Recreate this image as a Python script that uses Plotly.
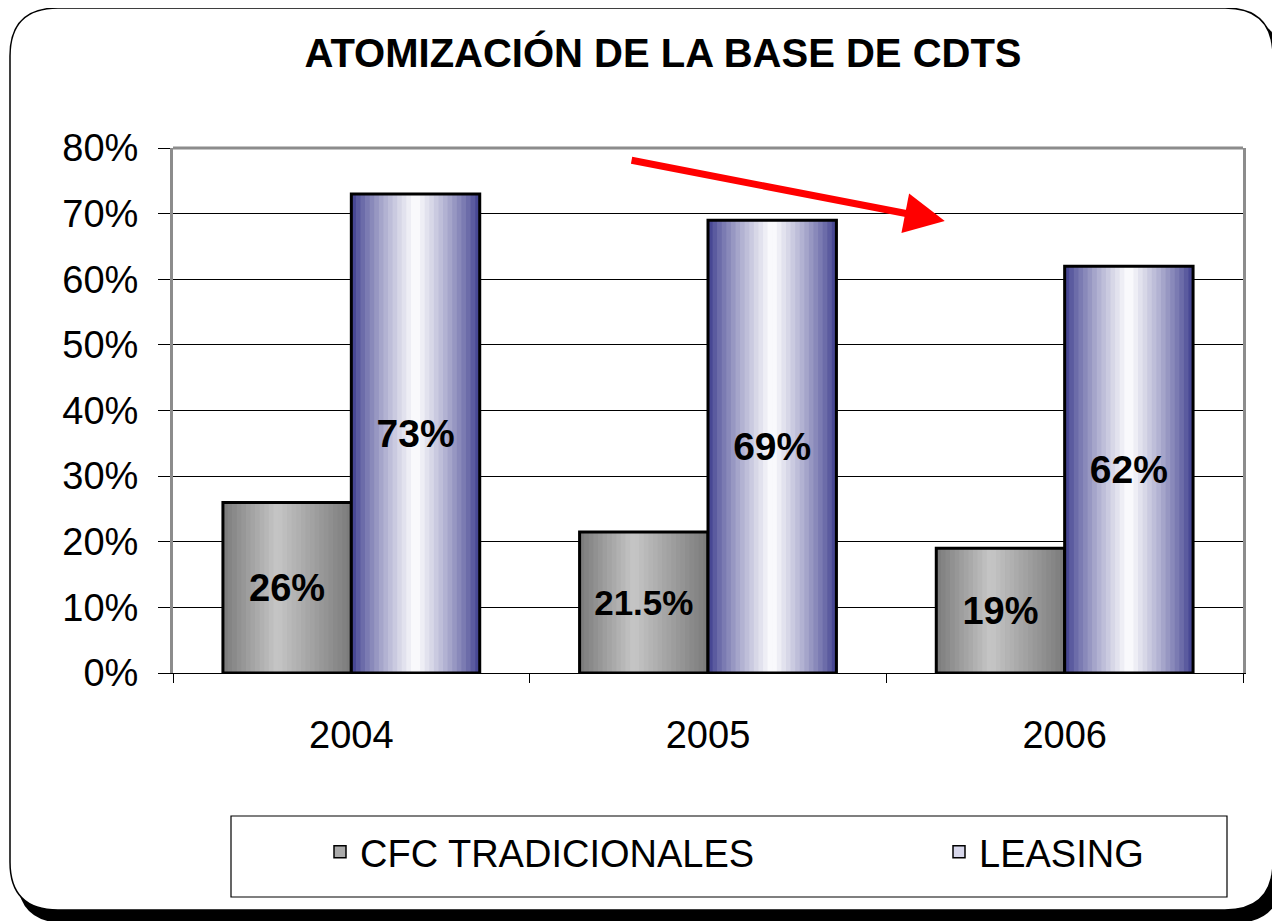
import plotly.graph_objects as go

# ===============================
# DATA
# ===============================
YEARS = ["2004", "2005", "2006"]
CFC = [26, 21.5, 19]
LEASING = [73, 69, 62]
CFC_LABELS = ["26%", "21.5%", "19%"]
LEASING_LABELS = ["73%", "69%", "62%"]
Y_TICKS = [0, 10, 20, 30, 40, 50, 60, 70, 80]
Y_TICK_LABELS = ["0%", "10%", "20%", "30%", "40%", "50%", "60%", "70%", "80%"]

TITLE = "ATOMIZACIÓN DE LA BASE DE CDTS"
FONT = "Liberation Sans, Arial, sans-serif"

# ===============================
# LAYOUT HELPERS (screen pixel -> paper)
# the page body adds an 8px margin, so the figure is drawn 8px smaller
# ===============================
OFF = 8
W, H = 1280 - OFF, 921 - OFF
L, R, T, B = 173, 1243, 148, 673   # plot area in screen pixels


def px_x(x):
    return (x - L) / (R - L)


def px_y(y):
    return (B - y) / (B - T)


def rounded_rect(x0, y0, x1, y1, r):
    pts = [
        f"M{px_x(x0 + r)},{px_y(y0)}",
        f"L{px_x(x1 - r)},{px_y(y0)}",
        f"Q{px_x(x1)},{px_y(y0)} {px_x(x1)},{px_y(y0 + r)}",
        f"L{px_x(x1)},{px_y(y1 - r)}",
        f"Q{px_x(x1)},{px_y(y1)} {px_x(x1 - r)},{px_y(y1)}",
        f"L{px_x(x0 + r)},{px_y(y1)}",
        f"Q{px_x(x0)},{px_y(y1)} {px_x(x0)},{px_y(y1 - r)}",
        f"L{px_x(x0)},{px_y(y0 + r)}",
        f"Q{px_x(x0)},{px_y(y0)} {px_x(x0 + r)},{px_y(y0)}",
        "Z",
    ]
    return " ".join(pts)


def mix(c1, c2, t):
    return "rgb(%d,%d,%d)" % tuple(round(a + (b - a) * t) for a, b in zip(c1, c2))


def gray_color(t):
    # dark edges, light band a bit left of centre
    peak = 0.42
    k = t / peak if t < peak else (1 - t) / (1 - peak)
    return mix((122, 122, 122), (198, 198, 198), k)


def blue_color(t):
    k = 1 - abs(t - 0.5) * 2
    k = k ** 0.8
    return mix((58, 58, 140), (255, 255, 255), k)


# ===============================
# FIGURE
# ===============================
BW = 0.36      # bar width in category units
N = 28         # gradient strips per bar

fig = go.Figure()

series = [
    ("CFC TRADICIONALES", CFC, CFC_LABELS, -BW, gray_color, "rgb(170,170,170)", "legend", [38, 35, 38]),
    ("LEASING", LEASING, LEASING_LABELS, 0.0, blue_color, "rgb(215,215,235)", "legend2", [39, 39, 39]),
]

for name, vals, labels, base, cfun, legend_col, leg, tsize in series:
    # legend carrier / base fill
    fig.add_trace(go.Bar(
        x=YEARS, y=vals, name=name,
        width=BW, offset=base,
        marker=dict(color=legend_col, line=dict(color="black", width=1.5)),
        legend=leg, hoverinfo="skip"
    ))
    # gradient strips
    for i in range(N):
        t = (i + 0.5) / N
        fig.add_trace(go.Bar(
            x=YEARS, y=vals,
            width=BW / N + 0.002, offset=base + i * BW / N,
            marker=dict(color=cfun(t), line=dict(width=0)),
            showlegend=False, hoverinfo="skip"
        ))
    # outline + labels
    fig.add_trace(go.Bar(
        x=YEARS, y=vals,
        width=BW, offset=base,
        marker=dict(color="rgba(0,0,0,0)", line=dict(color="black", width=3)),
        text=labels, textposition="inside", insidetextanchor="middle",
        constraintext="none", textangle=0,
        textfont=dict(family=FONT, size=tsize, color="black", weight="bold"),
        showlegend=False, hovertemplate="%{x}: %{text}<extra>" + name + "</extra>"
    ))

# red trend arrow
fig.add_annotation(
    x=(945 - 351) / 357, y=(B - 221) / 6.5625,
    ax=(630 - 351) / 357, ay=(B - 160) / 6.5625,
    xref="x", yref="y", axref="x", ayref="y",
    text="", showarrow=True,
    arrowhead=2, arrowsize=1.15, arrowwidth=7, arrowcolor="#ff0000"
)

shapes = [
    # drop shadow + frame
    dict(type="path", xref="paper", yref="paper", path=rounded_rect(17, 18, 1282, 923, 48),
         fillcolor="black", line=dict(width=0), layer="below"),
    dict(type="path", xref="paper", yref="paper", path=rounded_rect(10, 8, 1273, 910, 48),
         fillcolor="white", line=dict(color="black", width=1.5), layer="below"),
    # top border of plot area
    dict(type="line", xref="paper", yref="paper", x0=0, x1=1, y0=1, y1=1,
         line=dict(color="#8c8c8c", width=3), layer="above"),
    # legend box
    dict(type="rect", xref="paper", yref="paper",
         x0=px_x(231), x1=px_x(1227), y0=px_y(816), y1=px_y(897),
         line=dict(color="black", width=1.2), fillcolor="white", layer="below"),
]

fig.update_layout(
    width=W, height=H,
    margin=dict(l=L - OFF, r=W - (R - OFF), t=T - OFF, b=H - (B - OFF), autoexpand=False),
    barmode="overlay",
    paper_bgcolor="white",
    plot_bgcolor="rgba(0,0,0,0)",
    font=dict(family=FONT, color="black"),
    title=dict(
        text=f"<b>{TITLE}</b>",
        x=px_x(663), xref="paper", xanchor="center",
        y=1 - (53 - OFF) / H, yref="container", yanchor="middle",
        font=dict(family=FONT, size=40, color="black")
    ),
    shapes=shapes,
    legend=dict(
        orientation="h", x=px_x(320), y=px_y(852), xanchor="left", yanchor="middle",
        bgcolor="rgba(0,0,0,0)", font=dict(family=FONT, size=38, color="black")
    ),
    legend2=dict(
        orientation="h", x=px_x(939), y=px_y(852), xanchor="left", yanchor="middle",
        bgcolor="rgba(0,0,0,0)", font=dict(family=FONT, size=38, color="black")
    ),
    xaxis=dict(
        type="category", range=[-0.5, 2.5],
        showline=True, linecolor="black", linewidth=1,
        ticks="outside", tickson="boundaries", ticklen=9, tickcolor="black",
        tickfont=dict(family=FONT, size=38, color="black"),
        ticklabelstandoff=28, showgrid=False
    ),
    yaxis=dict(
        range=[0, 80], tickmode="array", tickvals=Y_TICKS, ticktext=Y_TICK_LABELS,
        showline=True, mirror=True, linecolor="#8c8c8c", linewidth=3,
        ticks="outside", ticklen=12, tickcolor="black",
        showgrid=True, gridcolor="black", gridwidth=1,
        zeroline=False,
        tickfont=dict(family=FONT, size=38, color="black"),
        ticklabelstandoff=12
    ),
)

fig.write_html("out.html")
